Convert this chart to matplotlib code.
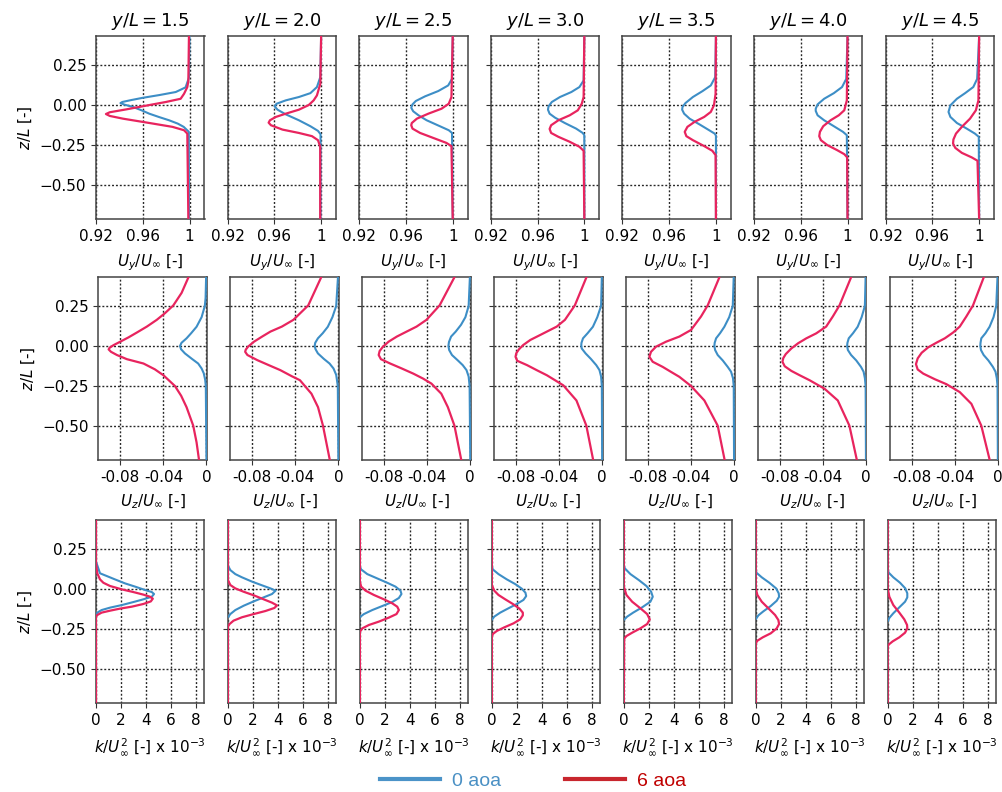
import matplotlib
matplotlib.use("Agg")
import matplotlib.pyplot as plt
from matplotlib.lines import Line2D

stations = ["1.5", "2.0", "2.5", "3.0", "3.5", "4.0", "4.5"]

# ---- row 1: U_y / U_inf  (z/L points, values), one list per station ----
uy_z_0 = [
    [0.43, 0.17, 0.11, 0.081, 0.062, 0.045, 0.031, 0.019, 0.012, 0.002, -0.012, -0.033, -0.054, -0.075, -0.095, -0.116, -0.136, -0.167, -0.71],
    [0.43, 0.174, 0.112, 0.074, 0.05, 0.029, 0.008, -0.008, -0.029, -0.058, -0.095, -0.132, -0.161, -0.182, -0.71],
    [0.43, 0.163, 0.122, 0.087, 0.054, 0.025, 0.004, -0.017, -0.039, -0.064, -0.095, -0.132, -0.157, -0.174, -0.71],
    [0.43, 0.153, 0.112, 0.081, 0.05, 0.019, -0.008, -0.029, -0.054, -0.079, -0.112, -0.147, -0.174, -0.188, -0.71],
    [0.43, 0.174, 0.122, 0.087, 0.05, 0.012, -0.012, -0.029, -0.054, -0.085, -0.12, -0.157, -0.178, -0.19, -0.71],
    [0.43, 0.163, 0.112, 0.074, 0.039, 0.004, -0.023, -0.037, -0.064, -0.095, -0.132, -0.167, -0.188, -0.71],
    [0.43, 0.163, 0.112, 0.074, 0.039, -0.002, -0.043, -0.074, -0.112, -0.147, -0.178, -0.198, -0.71],
]
uy_v_0 = [
    [1.0, 0.9995, 0.9966, 0.9882, 0.9741, 0.960, 0.9502, 0.9425, 0.9409, 0.9445, 0.9516, 0.959, 0.9656, 0.974, 0.9825, 0.990, 0.995, 0.9994, 0.9995],
    [1.0, 0.9993, 0.9964, 0.9908, 0.981, 0.9697, 0.9619, 0.9602, 0.9627, 0.9697, 0.981, 0.9908, 0.9973, 0.9995, 0.9995],
    [1.0, 0.9994, 0.9961, 0.9876, 0.9763, 0.9684, 0.9656, 0.9645, 0.9662, 0.9707, 0.9777, 0.989, 0.9966, 0.9994, 1.0],
    [1.0, 0.9994, 0.9958, 0.9889, 0.9792, 0.9722, 0.9694, 0.9689, 0.9703, 0.975, 0.9833, 0.993, 0.9986, 1.0, 1.0],
    [1.0, 0.9994, 0.9956, 0.9886, 0.9803, 0.9739, 0.9714, 0.9711, 0.9728, 0.9775, 0.9858, 0.9942, 0.9989, 1.0, 1.0],
    [1.0, 0.9989, 0.9953, 0.9883, 0.980, 0.9744, 0.9728, 0.9728, 0.9744, 0.980, 0.9883, 0.9961, 0.9994, 1.0],
    [1.0, 0.9983, 0.995, 0.988, 0.981, 0.9754, 0.9738, 0.9754, 0.981, 0.9894, 0.9964, 0.9997, 1.0],
]
uy_z_6 = [
    [0.43, 0.15, 0.112, 0.07, 0.039, 0.019, 0.0, -0.027, -0.045, -0.056, -0.068, -0.085, -0.112, -0.136, -0.157, -0.178, -0.71],
    [0.43, 0.132, 0.06, 0.029, 0.0, -0.029, -0.054, -0.074, -0.095, -0.11, -0.126, -0.153, -0.174, -0.194, -0.219, -0.26, -0.71],
    [0.43, 0.05, 0.008, -0.023, -0.054, -0.085, -0.112, -0.126, -0.147, -0.174, -0.209, -0.236, -0.256, -0.71],
    [0.43, 0.05, 0.008, -0.033, -0.064, -0.095, -0.126, -0.149, -0.174, -0.198, -0.229, -0.26, -0.285, -0.71],
    [0.43, 0.07, -0.002, -0.043, -0.074, -0.105, -0.136, -0.167, -0.194, -0.219, -0.256, -0.285, -0.312, -0.71],
    [0.43, 0.029, -0.033, -0.064, -0.095, -0.132, -0.167, -0.194, -0.219, -0.25, -0.281, -0.306, -0.326, -0.71],
    [0.43, 0.029, -0.033, -0.085, -0.136, -0.178, -0.215, -0.24, -0.267, -0.298, -0.326, -0.347, -0.71],
]
uy_v_6 = [
    [0.9995, 0.999, 0.9981, 0.9953, 0.9924, 0.9798, 0.9657, 0.946, 0.9318, 0.9285, 0.9318, 0.9431, 0.9657, 0.9854, 0.9953, 0.9981, 0.999],
    [1.0, 0.9993, 0.9964, 0.9936, 0.9894, 0.981, 0.9697, 0.9613, 0.9562, 0.9551, 0.9571, 0.9669, 0.981, 0.9922, 0.9973, 0.9992, 0.9992],
    [1.0, 0.9989, 0.9966, 0.9904, 0.9791, 0.9693, 0.965, 0.9645, 0.9656, 0.9721, 0.9848, 0.9946, 0.9989, 1.0],
    [1.0, 0.9994, 0.9978, 0.9944, 0.9875, 0.9778, 0.9716, 0.9703, 0.9716, 0.9778, 0.9875, 0.9958, 0.9994, 1.0],
    [1.0, 0.9997, 0.9983, 0.9956, 0.990, 0.9817, 0.9756, 0.9733, 0.9747, 0.9803, 0.990, 0.9969, 0.9997, 1.0],
    [1.0, 0.9994, 0.9972, 0.9925, 0.9855, 0.9792, 0.9764, 0.9758, 0.9772, 0.9828, 0.9911, 0.9972, 0.9997, 1.0],
    [1.0, 0.9994, 0.9972, 0.9922, 0.9852, 0.9802, 0.978, 0.9777, 0.9796, 0.9852, 0.9936, 0.9986, 1.0],
]

# ---- row 2: U_z / U_inf ----
uz_z_0 = [
    [0.435, 0.3, 0.25, 0.18, 0.12, 0.08, 0.048, 0.02, 0.0, -0.02, -0.046, -0.08, -0.109, -0.14, -0.17, -0.21, -0.25, -0.715],
    [0.435, 0.25, 0.18, 0.12, 0.08, 0.048, 0.02, 0.0, -0.02, -0.046, -0.08, -0.109, -0.14, -0.18, -0.25, -0.715],
    [0.435, 0.25, 0.18, 0.132, 0.09, 0.059, 0.025, 0.0, -0.025, -0.056, -0.09, -0.119, -0.15, -0.19, -0.25, -0.715],
    [0.435, 0.25, 0.18, 0.12, 0.08, 0.048, 0.02, 0.006, -0.015, -0.046, -0.08, -0.119, -0.15, -0.19, -0.25, -0.715],
    [0.435, 0.25, 0.18, 0.12, 0.08, 0.048, 0.02, 0.0, -0.025, -0.056, -0.09, -0.13, -0.16, -0.2, -0.25, -0.715],
    [0.435, 0.25, 0.18, 0.12, 0.08, 0.048, 0.02, 0.0, -0.025, -0.056, -0.09, -0.13, -0.16, -0.2, -0.25, -0.715],
    [0.435, 0.25, 0.18, 0.12, 0.08, 0.048, 0.02, 0.0, -0.025, -0.056, -0.09, -0.13, -0.16, -0.2, -0.25, -0.715],
]
uz_v_0 = [
    [-0.0003, -0.0008, -0.0015, -0.0045, -0.0092, -0.0142, -0.0185, -0.0232, -0.0246, -0.0236, -0.020, -0.0135, -0.0077, -0.0045, -0.0025, -0.0012, -0.0006, 0.0],
    [-0.0003, -0.002, -0.0055, -0.0098, -0.0145, -0.019, -0.0215, -0.022, -0.0212, -0.019, -0.0135, -0.0082, -0.0045, -0.002, -0.0005, 0.0],
    [-0.0003, -0.0015, -0.0045, -0.0086, -0.0135, -0.0178, -0.0198, -0.0203, -0.0196, -0.017, -0.0115, -0.007, -0.0035, -0.0015, -0.0006, 0.0],
    [-0.0003, -0.001, -0.0045, -0.0086, -0.0135, -0.0178, -0.0192, -0.0194, -0.019, -0.0154, -0.0105, -0.0055, -0.0025, -0.001, -0.0003, 0.0],
    [-0.0003, -0.0012, -0.0045, -0.009, -0.013, -0.0167, -0.018, -0.0183, -0.0176, -0.0152, -0.0105, -0.0059, -0.0028, -0.001, -0.0003, 0.0],
    [-0.0003, -0.001, -0.004, -0.0077, -0.012, -0.016, -0.0172, -0.0175, -0.0168, -0.0138, -0.009, -0.0046, -0.0022, -0.001, -0.0003, 0.0],
    [-0.0003, -0.0015, -0.004, -0.0077, -0.0115, -0.0154, -0.0161, -0.0163, -0.0157, -0.0132, -0.0088, -0.0046, -0.0022, -0.001, -0.0003, 0.0],
]
uz_z_6 = [
    [0.435, 0.331, 0.253, 0.205, 0.163, 0.121, 0.084, 0.054, 0.027, 0.006, -0.01, -0.021, -0.036, -0.056, -0.082, -0.109, -0.145, -0.182, -0.249, -0.31, -0.381, -0.496, -0.6, -0.715],
    [0.435, 0.253, 0.163, 0.121, 0.09, 0.059, 0.027, -0.004, -0.022, -0.036, -0.056, -0.088, -0.119, -0.15, -0.188, -0.213, -0.297, -0.381, -0.496, -0.715],
    [0.435, 0.253, 0.163, 0.121, 0.09, 0.059, 0.027, -0.004, -0.031, -0.056, -0.082, -0.109, -0.14, -0.172, -0.203, -0.234, -0.297, -0.381, -0.496, -0.715],
    [0.435, 0.253, 0.163, 0.121, 0.1, 0.069, 0.038, 0.006, -0.021, -0.045, -0.067, -0.092, -0.119, -0.151, -0.182, -0.213, -0.245, -0.339, -0.496, -0.715],
    [0.435, 0.253, 0.184, 0.1, 0.059, 0.027, -0.004, -0.036, -0.067, -0.098, -0.13, -0.161, -0.192, -0.249, -0.339, -0.496, -0.715],
    [0.435, 0.253, 0.184, 0.121, 0.079, 0.048, 0.017, -0.015, -0.05, -0.075, -0.098, -0.126, -0.155, -0.182, -0.213, -0.266, -0.339, -0.496, -0.715],
    [0.435, 0.253, 0.184, 0.121, 0.084, 0.048, 0.021, -0.008, -0.042, -0.077, -0.113, -0.146, -0.172, -0.207, -0.238, -0.287, -0.36, -0.496, -0.715],
]
uz_v_6 = [
    [-0.0163, -0.0231, -0.0308, -0.0385, -0.0462, -0.0554, -0.0647, -0.0724, -0.0801, -0.0862, -0.0899, -0.0909, -0.0887, -0.0832, -0.0739, -0.0585, -0.048, -0.040, -0.0293, -0.0235, -0.0185, -0.0123, -0.0092, -0.0068],
    [-0.0155, -0.028, -0.0418, -0.0525, -0.0631, -0.0708, -0.0784, -0.0839, -0.086, -0.0866, -0.0845, -0.0753, -0.0647, -0.054, -0.0433, -0.0357, -0.025, -0.0189, -0.0143, -0.0078],
    [-0.0142, -0.0285, -0.0407, -0.0499, -0.0591, -0.0682, -0.0759, -0.0811, -0.0842, -0.0851, -0.083, -0.0744, -0.0636, -0.0529, -0.0438, -0.0361, -0.0269, -0.0208, -0.0147, -0.0082],
    [-0.0142, -0.0254, -0.0346, -0.0422, -0.0484, -0.0575, -0.0667, -0.0734, -0.0774, -0.0798, -0.0805, -0.0789, -0.0698, -0.0606, -0.0514, -0.0438, -0.0361, -0.0239, -0.0147, -0.0082],
    [-0.0132, -0.0245, -0.0307, -0.040, -0.0508, -0.0632, -0.0725, -0.0772, -0.0787, -0.0756, -0.0663, -0.0586, -0.0508, -0.040, -0.0276, -0.0152, -0.0086],
    [-0.0134, -0.0246, -0.0308, -0.037, -0.0462, -0.0554, -0.0631, -0.0693, -0.0745, -0.0768, -0.0776, -0.0755, -0.0693, -0.0616, -0.0524, -0.0385, -0.0262, -0.0154, -0.0083],
    [-0.0127, -0.0231, -0.0293, -0.0354, -0.0416, -0.0493, -0.057, -0.0647, -0.0708, -0.0745, -0.0761, -0.0745, -0.0693, -0.0585, -0.0477, -0.0354, -0.0246, -0.0154, -0.0074],
]

# ---- row 3: k / U_inf^2  (x 1e-3) ----
k_z_0 = [
    [0.16, 0.098, 0.081, 0.06, 0.035, 0.015, -0.006, -0.019, -0.031, -0.048, -0.064, -0.081, -0.1, -0.116, -0.131, -0.147, -0.162],
    [0.139, 0.118, 0.093, 0.073, 0.046, 0.023, 0.004, -0.01, -0.031, -0.052, -0.077, -0.104, -0.131, -0.156, -0.172],
    [0.135, 0.122, 0.093, 0.066, 0.039, 0.015, -0.01, -0.031, -0.056, -0.081, -0.106, -0.131, -0.156, -0.172],
    [0.135, 0.122, 0.093, 0.06, 0.031, 0.002, -0.023, -0.044, -0.068, -0.093, -0.12, -0.147, -0.172, -0.189],
    [0.14, 0.129, 0.093, 0.056, 0.019, -0.017, -0.048, -0.079, -0.114, -0.147, -0.172, -0.189],
    [0.115, 0.102, 0.073, 0.039, 0.004, -0.027, -0.048, -0.073, -0.106, -0.139, -0.164, -0.185],
    [0.115, 0.102, 0.073, 0.039, 0.004, -0.027, -0.052, -0.079, -0.114, -0.151, -0.18, -0.197],
]
k_v_0 = [
    [0.05, 0.32, 0.86, 1.52, 2.33, 3.13, 3.93, 4.47, 4.65, 4.47, 3.8, 3.0, 2.06, 1.12, 0.45, 0.1, 0.0],
    [0.05, 0.19, 0.59, 1.12, 1.93, 2.73, 3.4, 3.82, 3.53, 2.86, 2.06, 1.26, 0.59, 0.19, 0.05],
    [0.03, 0.1, 0.59, 1.39, 2.19, 2.85, 3.25, 3.33, 3.12, 2.59, 1.79, 0.99, 0.32, 0.05],
    [0.03, 0.08, 0.53, 1.2, 1.87, 2.4, 2.69, 2.75, 2.53, 2.0, 1.33, 0.67, 0.19, 0.03],
    [0.03, 0.08, 0.53, 1.2, 1.81, 2.19, 2.32, 2.13, 1.47, 0.75, 0.27, 0.05],
    [0.02, 0.05, 0.48, 1.09, 1.63, 1.84, 1.87, 1.68, 1.2, 0.61, 0.21, 0.03],
    [0.02, 0.08, 0.45, 0.99, 1.41, 1.57, 1.57, 1.39, 0.93, 0.45, 0.13, 0.03],
]
k_z_6 = [
    [0.435, 0.16, 0.098, 0.06, 0.039, 0.019, -0.002, -0.019, -0.035, -0.048, -0.06, -0.077, -0.093, -0.11, -0.122, -0.135, -0.147, -0.162, -0.172, -0.715],
    [0.435, 0.056, 0.025, 0.004, -0.017, -0.039, -0.064, -0.085, -0.102, -0.118, -0.137, -0.156, -0.176, -0.197, -0.218, -0.234, -0.715],
    [0.435, 0.046, 0.015, -0.01, -0.037, -0.064, -0.089, -0.11, -0.131, -0.156, -0.178, -0.203, -0.224, -0.245, -0.266, -0.715],
    [0.435, 0.025, -0.01, -0.037, -0.064, -0.093, -0.122, -0.147, -0.164, -0.189, -0.214, -0.239, -0.261, -0.28, -0.297, -0.715],
    [0.435, 0.015, -0.037, -0.079, -0.12, -0.156, -0.189, -0.218, -0.245, -0.272, -0.293, -0.309, -0.715],
    [0.435, 0.004, -0.037, -0.079, -0.12, -0.162, -0.193, -0.218, -0.245, -0.276, -0.301, -0.322, -0.338, -0.715],
    [0.435, 0.004, -0.048, -0.1, -0.147, -0.189, -0.224, -0.245, -0.272, -0.301, -0.326, -0.346, -0.359, -0.715],
]
k_v_6 = [
    [0, 0, 0.1, 0.32, 0.59, 1.12, 2.06, 3.0, 3.8, 4.33, 4.55, 4.39, 3.8, 2.86, 1.93, 1.12, 0.45, 0.1, 0, 0],
    [0, 0, 0.19, 0.59, 1.26, 2.06, 2.86, 3.53, 3.93, 3.72, 3.0, 2.06, 1.12, 0.45, 0.13, 0, 0],
    [0, 0, 0.1, 0.45, 1.12, 1.92, 2.59, 2.99, 3.12, 2.93, 2.32, 1.52, 0.72, 0.19, 0, 0],
    [0, 0, 0.19, 0.53, 1.07, 1.68, 2.21, 2.48, 2.48, 2.27, 1.73, 0.99, 0.4, 0.08, 0, 0],
    [0, 0, 0.21, 0.67, 1.33, 1.87, 2.08, 1.87, 1.33, 0.67, 0.21, 0.03, 0],
    [0, 0, 0.13, 0.48, 1.01, 1.55, 1.81, 1.87, 1.68, 1.2, 0.56, 0.13, 0, 0],
    [0, 0, 0.13, 0.45, 0.93, 1.33, 1.55, 1.57, 1.39, 0.93, 0.4, 0.08, 0, 0],
]

x_ticks_uy = [0.92, 0.96, 1.0]
x_labels_uy = ["0.92", "0.96", "1"]
x_ticks_uz = [-0.08, -0.04, 0.0]
x_labels_uz = ["-0.08", "-0.04", "0"]
x_ticks_k = [0, 2, 4, 6, 8]
x_labels_k = ["0", "2", "4", "6", "8"]
z_ticks = [-0.5, -0.25, 0.0, 0.25]

BLUE = "#3d8ec6"
RED = "#e8245e"

W, H = 1003, 792
fig = plt.figure(figsize=(W / 100, H / 100), dpi=100)

rows = [
    dict(z0=uy_z_0, v0=uy_v_0, z6=uy_z_6, v6=uy_v_6, xlim=(0.92, 1.0128),
         ticks=x_ticks_uy, labels=x_labels_uy, xlabel=r"$U_y/U_\infty$ [-]",
         left=96, step=131.6, width=108.5, top=36),
    dict(z0=uz_z_0, v0=uz_v_0, z6=uz_z_6, v6=uz_v_6, xlim=(-0.1005, 0.0005),
         ticks=x_ticks_uz, labels=x_labels_uz, xlabel=r"$U_z/U_\infty$ [-]",
         left=98.3, step=131.9, width=108.7, top=277),
    dict(z0=k_z_0, v0=k_v_0, z6=k_z_6, v6=k_v_6, xlim=(0, 8.65),
         ticks=x_ticks_k, labels=x_labels_k, xlabel=r"$k/U_\infty^2$ [-] x $10^{-3}$",
         left=96, step=131.95, width=108, top=520),
]
ax_h = 183

for r, row in enumerate(rows):
    for c in range(7):
        x0 = row["left"] + c * row["step"]
        ax = fig.add_axes([x0 / W, 1 - (row["top"] + ax_h) / H, row["width"] / W, ax_h / H])
        ax.plot(row["v0"][c], row["z0"][c], color=BLUE, lw=1.5, zorder=3, solid_joinstyle="round")
        ax.plot(row["v6"][c], row["z6"][c], color=RED, lw=1.6, zorder=4, solid_joinstyle="round")
        ax.set_xlim(*row["xlim"])
        ax.set_ylim(-0.71, 0.43)
        ax.set_xticks(row["ticks"])
        ax.set_xticklabels(row["labels"])
        ax.set_yticks(z_ticks)
        ax.grid(True, color="black", linestyle=(0, (1.4, 1.4)), lw=1.0, alpha=0.85)
        ax.tick_params(labelsize=11, color="#333333", length=3.5)
        for s in ax.spines.values():
            s.set_color("#444444")
            s.set_linewidth(1.1)
        ax.set_xlabel(row["xlabel"], fontsize=11, labelpad=6)
        if c == 0:
            ax.set_ylabel(r"$z/L$ [-]", fontsize=11)
        else:
            ax.set_yticklabels([])
        if r == 0:
            ax.set_title(r"$y/L = %s$" % stations[c], fontsize=13, pad=7)

handles = [Line2D([], [], color="#4b93c8", lw=3), Line2D([], [], color="#c8262e", lw=3)]
fig.legend(handles, ["0 aoa", "6 aoa"], loc="center", bbox_to_anchor=(533 / W, 1 - 781 / H),
           ncol=2, frameon=False, prop={"family": "Liberation Sans", "size": 14},
           labelcolor=["#4a90c4", "#c00000"], handlelength=3.1, handletextpad=0.6,
           columnspacing=3.3)

fig.savefig("out.png", dpi=100)
